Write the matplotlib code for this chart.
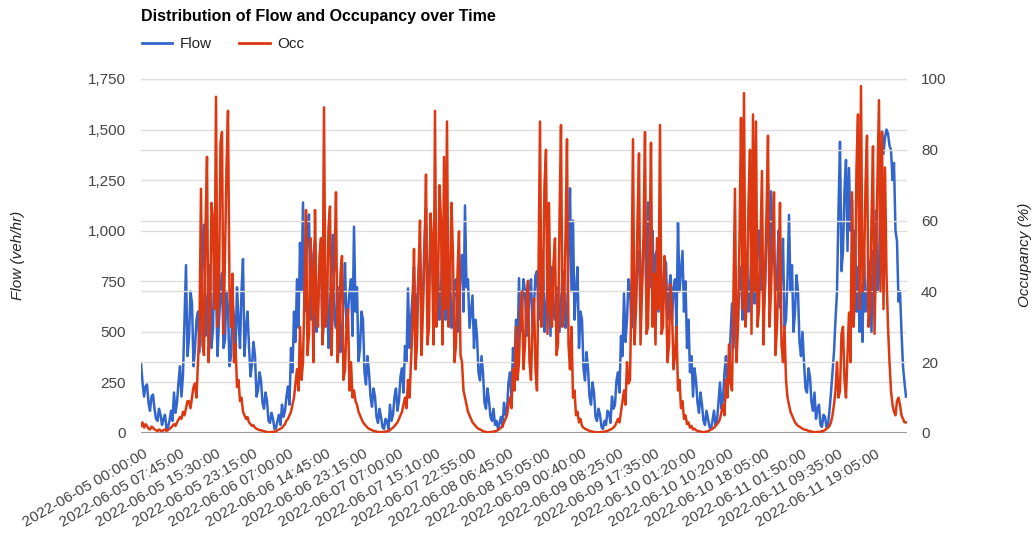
import matplotlib
matplotlib.use("Agg")
import matplotlib.pyplot as plt
import numpy as np
from matplotlib.lines import Line2D
from matplotlib.ticker import FuncFormatter

plt.rcParams["font.family"] = ["Liberation Sans", "DejaVu Sans"]

# Flow (veh/hr), one value per ~1.5 px of x-axis
flow = [
    346, 250, 180, 230, 240, 150, 110, 180, 190, 120, 70, 60, 120, 90, 40, 70, 90, 20, 30, 60,
    110, 60, 200, 100, 150, 250, 330, 180, 290, 560, 830, 380, 470, 700, 640, 330, 420, 560, 600, 400,
    680, 900, 1030, 480, 610, 760, 830, 420, 520, 950, 720, 380, 560, 680, 790, 420, 460, 700, 620, 330,
    380, 650, 570, 400, 720, 560, 420, 700, 860, 380, 520, 600, 430, 280, 340, 450, 380, 180, 210, 300,
    260, 150, 120, 200, 160, 60, 50, 100, 70, 20, 25, 60, 90, 40, 140, 80, 110, 180, 230, 140,
    420, 300, 600, 450, 760, 520, 940, 700, 1140, 600, 820, 1000, 1080, 560, 700, 880, 950, 500, 640, 820,
    880, 450, 560, 700, 760, 420, 620, 850, 980, 560, 520, 680, 720, 400, 480, 650, 840, 520, 600, 700,
    760, 480, 1020, 600, 720, 350, 420, 600, 560, 300, 240, 380, 300, 180, 130, 220, 180, 80, 50, 120,
    80, 30, 20, 70, 60, 20, 140, 60, 90, 180, 220, 110, 160, 280, 320, 200, 430, 350, 715, 420,
    560, 680, 820, 500, 650, 780, 900, 560, 700, 950, 1110, 620, 760, 980, 900, 600, 1110, 700, 800, 560,
    700, 950, 900, 560, 620, 800, 820, 520, 580, 740, 760, 500, 640, 800, 880, 600, 1125, 720, 760, 520,
    600, 680, 420, 560, 480, 300, 260, 380, 300, 150, 120, 220, 160, 80, 60, 120, 40, 60, 20, 50,
    80, 30, 150, 90, 110, 250, 300, 180, 420, 330, 560, 400, 765, 500, 620, 760, 700, 480, 560, 680,
    760, 520, 640, 780, 800, 560, 700, 900, 880, 500, 600, 740, 760, 480, 820, 600, 560, 720, 700, 500,
    640, 800, 780, 520, 560, 900, 1210, 700, 1050, 560, 700, 820, 420, 600, 560, 320, 260, 400, 320, 180,
    140, 250, 200, 80, 60, 120, 90, 30, 20, 60, 40, 110, 100, 50, 180, 120, 140, 260, 300, 200,
    480, 380, 690, 450, 560, 760, 720, 520, 860, 600, 640, 880, 900, 620, 760, 950, 1000, 640, 1140, 720,
    820, 1000, 700, 880, 900, 600, 1000, 700, 640, 860, 840, 560, 700, 780, 560, 720, 760, 520, 1040, 700,
    800, 900, 600, 750, 420, 560, 300, 380, 180, 320, 260, 150, 100, 200, 140, 60, 40, 110, 70, 30,
    20, 60, 110, 40, 60, 150, 250, 120, 170, 300, 380, 220, 300, 480, 640, 420, 700, 480, 560, 750,
    820, 560, 640, 860, 900, 600, 700, 900, 960, 640, 760, 920, 1000, 700, 880, 600, 700, 950, 1230, 800,
    1195, 850, 900, 700, 760, 1000, 620, 800, 960, 520, 560, 760, 1078, 700, 830, 500, 600, 780, 700, 450,
    380, 500, 350, 220, 200, 320, 280, 150, 110, 200, 70, 120, 140, 40, 30, 90, 80, 30, 40, 110,
    200, 300, 400, 560, 700, 1100, 1440, 800, 900, 1200, 1350, 900, 1310, 1000, 1150, 700, 1000, 600, 820, 500,
    700, 450, 900, 600, 620, 850, 780, 500, 900, 650, 1100, 700, 760, 1300, 1490, 1380, 1460, 1500, 1480, 1420,
    1400, 1250, 1335, 1000, 950, 650, 700, 500, 330, 250, 180,
]

# Occupancy (%)
occ = [
    2, 3, 1.5, 2.5, 2, 1.2, 1, 1.8, 1.5, 1, 0.8, 0.5, 1, 0.7, 0.5, 0.8, 1, 0.6, 0.8, 1.2,
    1.5, 2, 2.5, 2, 3, 3.8, 4.5, 4, 6, 5, 7, 9, 9, 7, 10, 13, 14, 10, 20, 30,
    69, 25, 22, 58, 78, 20, 30, 65, 60, 35, 95, 30, 40, 82, 85, 28, 50, 75, 91, 40,
    30, 45, 20, 25, 13, 15, 9, 10, 6, 5, 4, 4.5, 3, 2.5, 2, 2.2, 1.5, 1.2, 1, 0.8,
    0.8, 0.6, 0.5, 0.4, 0.3, 0.2, 0.2, 0.3, 0.3, 0.4, 0.5, 0.8, 1, 1.2, 1.5, 2, 2.5, 3.5, 4, 5,
    6, 8, 10, 14, 18, 12, 30, 15, 20, 40, 63, 22, 28, 55, 45, 20, 63, 35, 30, 50,
    55, 25, 92, 30, 35, 58, 64, 22, 40, 48, 68, 20, 25, 45, 50, 15, 18, 30, 35, 12,
    20, 10, 12, 9, 8, 6, 5, 4, 3, 2.5, 2, 1.5, 1.2, 1, 0.8, 0.6, 0.5, 0.4, 0.3, 0.2,
    0.2, 0.3, 0.3, 0.4, 0.5, 0.6, 0.8, 1.2, 1.5, 2, 2.5, 3, 4, 5, 6, 8, 10, 7, 15, 10,
    20, 30, 52, 18, 25, 45, 60, 22, 35, 50, 73, 25, 30, 62, 55, 25, 91, 30, 40, 70,
    60, 25, 78, 35, 88, 30, 40, 65, 50, 20, 25, 45, 57, 22, 20, 12, 10, 8, 6, 5,
    4, 3, 2.5, 2, 1.5, 1.2, 1, 0.8, 0.5, 0.4, 0.3, 0.2, 0.2, 0.3, 0.3, 0.4, 0.5, 0.6, 0.8, 1.2,
    1.5, 2, 3, 4, 5, 8, 10, 7, 18, 12, 30, 15, 20, 35, 40, 18, 25, 38, 43, 20,
    15, 30, 38, 18, 12, 45, 88, 30, 40, 70, 80, 28, 65, 35, 30, 48, 55, 22, 25, 60,
    87, 30, 35, 55, 83, 25, 18, 30, 10, 12, 5, 6, 3, 4, 2, 1.5, 1.2, 1, 0.8, 0.6,
    0.5, 0.4, 0.3, 0.2, 0.2, 0.2, 0.2, 0.3, 0.3, 0.4, 0.5, 0.6, 0.8, 1, 1.2, 1.6, 2, 3, 4, 3,
    6, 9, 12, 8, 20, 14, 15, 40, 83, 25, 35, 60, 79, 25, 40, 55, 85, 28, 30, 50,
    82, 30, 45, 25, 55, 35, 87, 28, 30, 50, 40, 20, 25, 42, 35, 18, 22, 30, 12, 15,
    7, 9, 4, 5, 2.5, 3, 1.5, 2, 1, 1.2, 0.8, 0.6, 0.5, 0.4, 0.3, 0.2, 0.3, 0.4, 0.5, 0.7,
    1, 1.2, 1.5, 2, 2.5, 3, 4, 6, 8, 5, 15, 10, 25, 14, 12, 40, 69, 20, 30, 55,
    89, 35, 96, 30, 40, 65, 80, 28, 90, 40, 88, 30, 35, 55, 74, 25, 45, 62, 84, 30,
    40, 55, 68, 22, 30, 45, 65, 25, 20, 30, 15, 10, 8, 6, 5, 4, 3, 2.5, 2, 1.8,
    1.5, 1.2, 1, 0.9, 0.8, 0.6, 0.5, 0.4, 0.3, 0.2, 0.2, 0.3, 0.3, 0.4, 0.5, 0.6, 0.8, 1.2, 1.5, 2,
    3, 5, 8, 12, 20, 10, 12, 28, 30, 15, 10, 22, 34, 20, 68, 30, 40, 75, 90, 35,
    98, 40, 45, 70, 84, 30, 35, 60, 81, 28, 50, 72, 94, 40, 85, 35, 75, 45, 30, 20,
    12, 8, 6, 5, 9, 10, 8, 5, 4, 3, 3,
]

tick_labels = [
    "2022-06-05 00:00:00", "2022-06-05 07:45:00", "2022-06-05 15:30:00",
    "2022-06-05 23:15:00", "2022-06-06 07:00:00", "2022-06-06 14:45:00",
    "2022-06-06 23:15:00", "2022-06-07 07:00:00", "2022-06-07 15:10:00",
    "2022-06-07 22:55:00", "2022-06-08 06:45:00", "2022-06-08 15:05:00",
    "2022-06-09 00:40:00", "2022-06-09 08:25:00", "2022-06-09 17:35:00",
    "2022-06-10 01:20:00", "2022-06-10 10:20:00", "2022-06-10 18:05:00",
    "2022-06-11 01:50:00", "2022-06-11 09:35:00", "2022-06-11 19:05:00",
]

BLUE = "#3366cc"
RED = "#dc3912"
GRID = "#dddddd"
TXT = "#444444"

x = np.arange(len(flow))

fig = plt.figure(figsize=(10.36, 5.35), dpi=100)
ax = fig.add_axes([141 / 1036, 1 - 433 / 535, 766 / 1036, 354 / 535])
ax2 = ax.twinx()

ax.plot(x, flow, color=BLUE, linewidth=1.8)
ax2.plot(np.arange(len(occ)), occ, color=RED, linewidth=1.8)

ax.set_xlim(0, len(flow) - 0.33)
ax.set_ylim(0, 1750)
ax2.set_ylim(0, 100)
ax.set_yticks(np.arange(0, 1751, 250))
ax2.set_yticks(np.arange(0, 101, 20))
ax.yaxis.set_major_formatter(FuncFormatter(lambda v, _: f"{int(v):,}"))

ax.grid(axis="y", color=GRID, linewidth=1)
ax2.grid(axis="y", color=GRID, linewidth=1)
ax.set_axisbelow(True)
ax2.set_axisbelow(True)
ax.axhline(0, color="#888888", linewidth=1.5, zorder=5)

for a in (ax, ax2):
    for s in a.spines.values():
        s.set_visible(False)
    a.tick_params(length=0, labelsize=11, colors=TXT)

ax.tick_params(axis="y", pad=11)
ax2.tick_params(axis="y", pad=10)

tick_pos = np.linspace(1.3, 489.3, len(tick_labels))
ax.set_xticks(tick_pos)
ax.set_xticklabels(tick_labels, rotation=30, ha="right", rotation_mode="anchor")
ax.tick_params(axis="x", pad=10)

fig.text(18 / 1036, 1 - 255 / 535, "Flow (veh/hr)", rotation=90, style="italic",
         fontsize=11, color="#222222", ha="center", va="center")
fig.text(1025 / 1036, 1 - 255 / 535, "Occupancy (%)", rotation=90, style="italic",
         fontsize=11, color="#222222", ha="center", va="center")

fig.text(141 / 1036, 1 - 17 / 535, "Distribution of Flow and Occupancy over Time",
         fontsize=11.5, fontweight="bold", color="#000000", ha="left", va="center")

handles = [Line2D([], [], color=BLUE, linewidth=2), Line2D([], [], color=RED, linewidth=2)]
fig.legend(handles, ["Flow", "Occ"], loc="center left",
           bbox_to_anchor=(128 / 1036, 1 - 44 / 535), ncol=2, frameon=False,
           fontsize=11, handlelength=2.0, handletextpad=0.5, columnspacing=1.8,
           labelcolor="#222222")

fig.savefig("out.png", dpi=100)
